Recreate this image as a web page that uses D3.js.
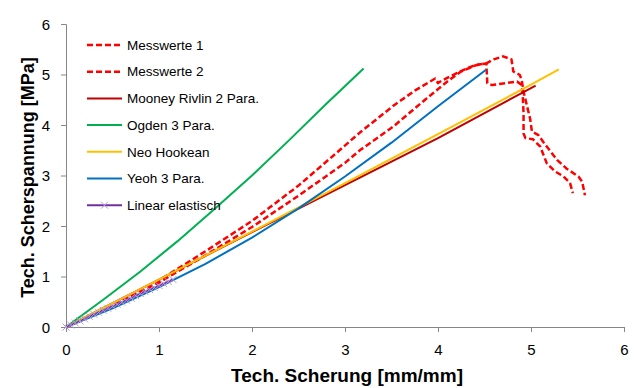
<!DOCTYPE html>
<html>
<head>
<meta charset="utf-8">
<script src="https://cdn.jsdelivr.net/npm/d3@7"></script>
<style>
  body { margin: 0; background: #fff; }
  text { font-family: "Liberation Sans", Arial, sans-serif; }
</style>
</head>
<body>
<div id="chart"></div>
<script>
// Series data [shear, stress]
const messwerte1 = [[0,0],[0.5,0.43],[1,0.92],[1.5,1.5],[2,2.1],[2.5,2.8],[2.91,3.45],[3.16,3.85],[3.52,4.38],[3.75,4.68],[3.97,4.92],[4.0,4.83],[4.04,4.88],[4.24,5.06],[4.4,5.19],[4.52,5.22],[4.6,5.3],[4.7,5.36],[4.79,5.3],[4.81,5.06],[4.88,4.99],[4.9,4.89],[4.92,4.66],[4.95,4.43],[4.99,4.13],[5.01,3.87],[5.08,3.8],[5.13,3.67],[5.2,3.5],[5.28,3.31],[5.38,3.14],[5.51,2.98],[5.55,2.88],[5.58,2.61]];
const messwerte2 = [[0,0],[0.5,0.42],[1,0.88],[1.5,1.42],[2,1.98],[2.5,2.6],[3,3.25],[3.16,3.5],[3.52,3.97],[3.88,4.53],[4.1,4.86],[4.24,5.05],[4.4,5.18],[4.52,5.22],[4.53,4.83],[4.58,4.79],[4.85,4.86],[4.9,4.79],[4.91,4.63],[4.92,4.23],[4.92,3.83],[4.94,3.74],[5.02,3.72],[5.1,3.57],[5.17,3.24],[5.26,3.08],[5.35,2.98],[5.42,2.85],[5.45,2.65]];
const mooney = [[0,0],[1,0.94],[2,1.88],[3,2.81],[4,3.74],[5.05,4.78]];
const ogden = [[0,0],[0.4,0.54],[0.8,1.1],[1.2,1.7],[1.6,2.34],[2.0,3.0],[2.4,3.7],[2.8,4.42],[3.2,5.12]];
const neoHookean = [[0,0],[1,0.94],[2,1.89],[3,2.85],[4,3.82],[5,4.8],[5.3,5.1]];
const yeoh = [[0,0],[0.5,0.37],[1,0.79],[1.5,1.25],[2,1.77],[2.5,2.35],[3,2.98],[3.5,3.65],[4,4.37],[4.52,5.1]];
const linearX = [0,0.05,0.1,0.15,0.2,0.25,0.3,0.35,0.4,0.45,0.5,0.55,0.6,0.65,0.7,0.75,0.8,0.85,0.9,0.95,1.0,1.05,1.1,1.15];
const linearY = [0,0.04,0.08,0.12,0.16,0.21,0.25,0.29,0.33,0.37,0.41,0.45,0.49,0.53,0.57,0.62,0.66,0.70,0.74,0.78,0.82,0.86,0.90,0.94];

const xTicks = [0,1,2,3,4,5,6];
const yTicks = [0,1,2,3,4,5,6];

const series = [
  {name: "Messwerte 1", data: messwerte1, color: "#FF0000", dash: "6,3", width: 2.5},
  {name: "Messwerte 2", data: messwerte2, color: "#FF0000", dash: "6,3", width: 2.5},
  {name: "Mooney Rivlin 2 Para.", data: mooney, color: "#C00000", width: 2},
  {name: "Ogden 3 Para.", data: ogden, color: "#00B050", width: 2},
  {name: "Neo Hookean", data: neoHookean, color: "#FFC000", width: 2},
  {name: "Yeoh 3 Para.", data: yeoh, color: "#0070C0", width: 2},
  {name: "Linear elastisch", data: linearX.map((x, i) => [x, linearY[i]]), color: "#7030A0", width: 2, marker: true}
];

const margin = {top: 24, right: 15, bottom: 61, left: 66},
      width = 639 - margin.left - margin.right,
      height = 388 - margin.top - margin.bottom;

const svg = d3.select("#chart")
  .append("svg")
    .attr("width", 639)
    .attr("height", 388)
  .append("g")
    .attr("transform", `translate(${margin.left},${margin.top})`);

const x = d3.scaleLinear().domain([0, 6]).range([0, width]);
const y = d3.scaleLinear().domain([0, 6]).range([height, 0]);

// Axes
const xAxis = svg.append("g")
  .attr("transform", `translate(0,${height})`)
  .call(d3.axisBottom(x).tickValues(xTicks).tickSize(5).tickPadding(12).tickFormat(d3.format("d")));
const yAxis = svg.append("g")
  .call(d3.axisLeft(y).tickValues(yTicks).tickSize(5).tickPadding(11).tickFormat(d3.format("d")));

[xAxis, yAxis].forEach(a => {
  a.select(".domain").attr("stroke", "#868686");
  a.selectAll(".tick line").attr("stroke", "#868686");
  a.selectAll(".tick text")
    .attr("fill", "#000")
    .style("font-size", "15px")
    .style("font-family", "'Liberation Sans', Arial, sans-serif");
});
yAxis.selectAll(".tick text").attr("dy", "0.35em");

// Lines
const line = d3.line()
  .x(d => x(d[0]))
  .y(d => y(d[1]));

series.forEach(s => {
  svg.append("path")
    .datum(s.data)
    .attr("fill", "none")
    .attr("stroke", s.color)
    .attr("stroke-width", s.width)
    .attr("stroke-dasharray", s.dash || null)
    .attr("stroke-linejoin", "round")
    .attr("d", line);

  if (s.marker) {
    svg.append("g")
      .selectAll("path")
      .data(s.data)
      .enter()
      .append("path")
        .attr("d", d => {
          const cx = x(d[0]), cy = y(d[1]), r = 3.5;
          return `M${cx - r},${cy - r}L${cx + r},${cy + r}M${cx - r},${cy + r}L${cx + r},${cy - r}`;
        })
        .attr("stroke", "#B49DDC")
        .attr("stroke-width", 1);
  }
});

// Legend
const legend = svg.append("g")
  .attr("transform", `translate(${87 - margin.left},${45 - margin.top})`);

series.forEach((s, i) => {
  const g = legend.append("g").attr("transform", `translate(0,${i * 26.7})`);
  g.append("line")
    .attr("x1", 0).attr("x2", 35)
    .attr("y1", 0).attr("y2", 0)
    .attr("stroke", s.color)
    .attr("stroke-width", s.width)
    .attr("stroke-dasharray", s.dash || null);
  if (s.marker) {
    g.append("path")
      .attr("d", "M14,-3.5L21,3.5M14,3.5L21,-3.5")
      .attr("stroke", "#B49DDC")
      .attr("stroke-width", 1);
  }
  g.append("text")
    .attr("x", 40)
    .attr("y", 0)
    .attr("dy", "0.35em")
    .style("font-size", "13.5px")
    .attr("fill", "#000")
    .text(s.name);
});

// Axis titles
svg.append("text")
  .attr("text-anchor", "middle")
  .attr("x", width / 2 + 2)
  .attr("y", height + 55)
  .style("font-size", "19px")
  .style("font-weight", "bold")
  .text("Tech. Scherung [mm/mm]");

svg.append("text")
  .attr("text-anchor", "middle")
  .attr("transform", "rotate(-90)")
  .attr("x", -(height / 2) - 2)
  .attr("y", -margin.left + 34)
  .style("font-size", "18px")
  .style("font-weight", "bold")
  .text("Tech. Scherspannung [MPa]");
</script>
</body>
</html>
